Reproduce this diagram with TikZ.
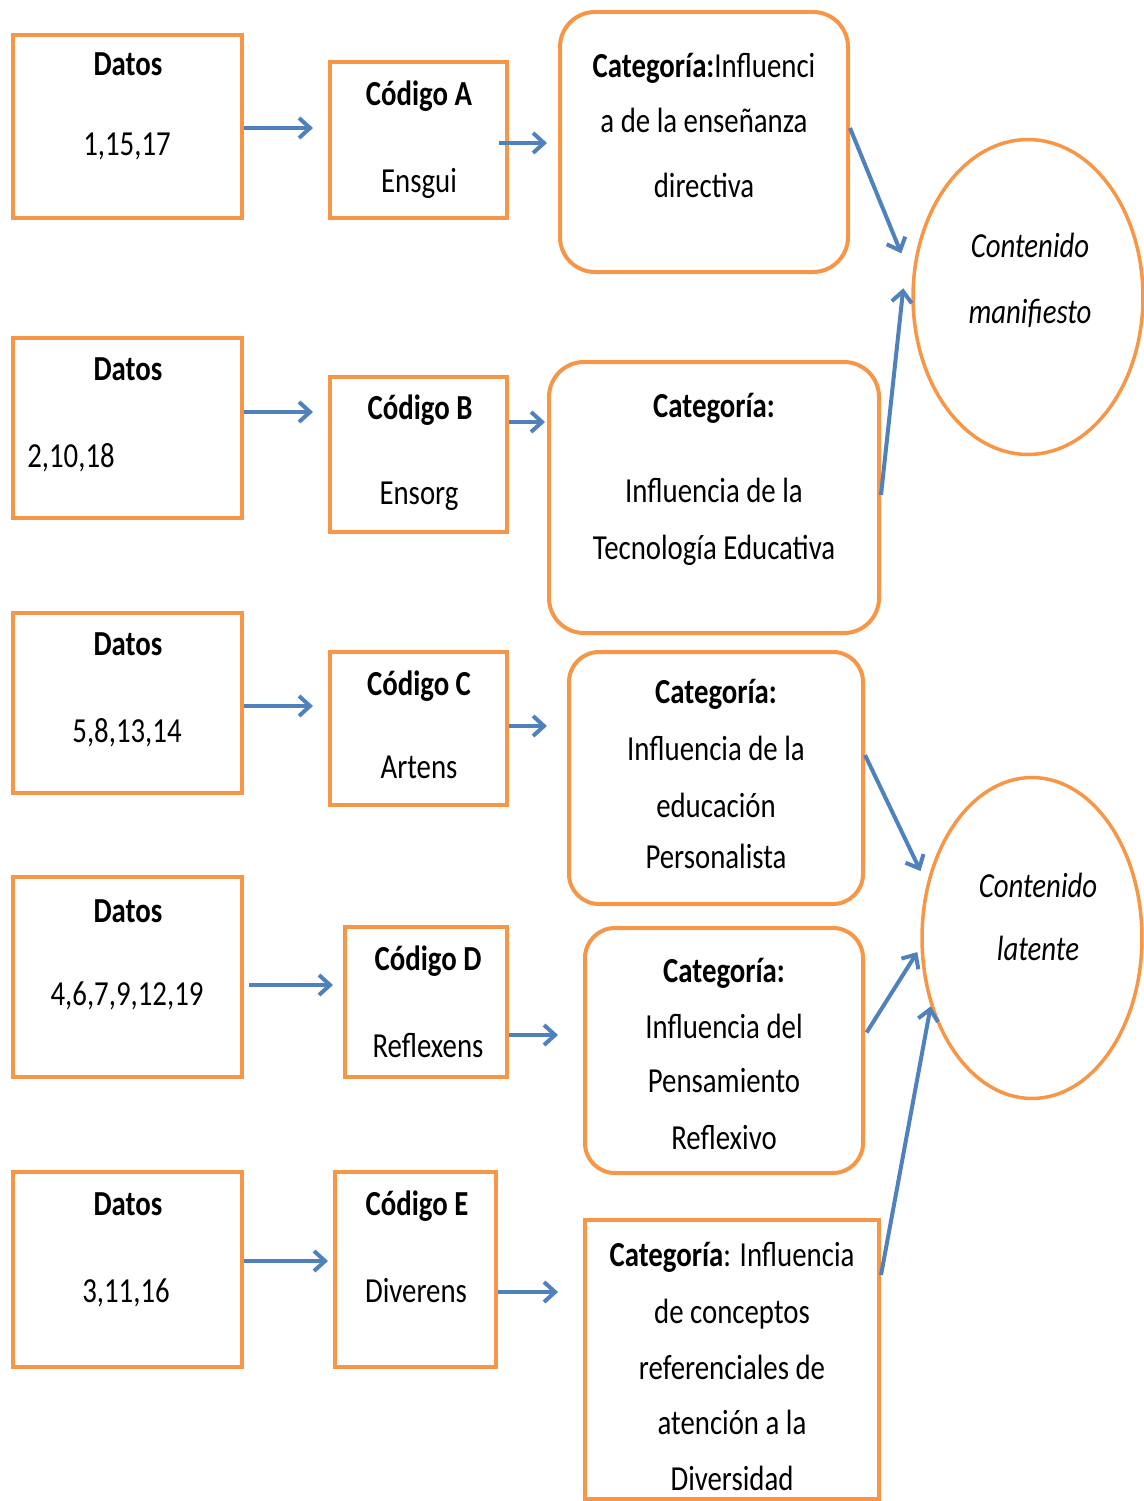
\documentclass[tikz,border=0pt]{standalone}
\usepackage{fontspec}
\setmainfont{Carlito}[FakeStretch=0.82]
\usetikzlibrary{arrows.meta,shapes.geometric,fit,calc}
\definecolor{org}{RGB}{247,150,70}
\definecolor{blu}{RGB}{79,129,189}
\begin{document}
\begin{tikzpicture}[x=0.02cm,y=-0.02cm,
 box/.style={draw=org, line width=0.08cm, inner sep=0pt, rectangle},
 rbox/.style={box, rounded corners=0.7cm},
 ell/.style={draw=org, line width=0.07cm, ellipse, inner sep=0pt},
 lbl/.style={anchor=base, inner sep=0pt, font=\fontsize{20}{24}\selectfont},
 arr/.style={draw=blu, line width=0.08cm, -{Straight Barb[length=0.22cm,width=0.4cm]}}
]
\useasboundingbox (0,0) rectangle (1143,1501);
% Datos boxes
\node[box, fit={(13,35)(242,218)}] (d1) {};
\node[box, fit={(13,338)(242,518)}] (d2) {};
\node[box, fit={(13,613)(242,793)}] (d3) {};
\node[box, fit={(13,877)(242,1077)}] (d4) {};
\node[box, fit={(13,1172)(242,1367)}] (d5) {};
% Codigo boxes
\node[box, fit={(330,62)(507,218)}] (ca) {};
\node[box, fit={(330,377)(507,532)}] (cb) {};
\node[box, fit={(330,652)(507,805)}] (cc) {};
\node[box, fit={(345,927)(507,1077)}] (cd) {};
\node[box, fit={(335,1172)(496,1367)}] (ce) {};
% Categoria boxes
\node[rbox, fit={(560,12)(848,272)}] (k1) {};
\node[rbox, fit={(549,362)(879,633)}] (k2) {};
\node[rbox, rounded corners=0.6cm, fit={(569,652)(863,904)}] (k3) {};
\node[rbox, rounded corners=0.6cm, fit={(585,928)(863,1173)}] (k4) {};
\node[box, fit={(585,1220)(879,1499)}] (k5) {};
% Ellipses
\node[ell, minimum width=4.6cm, minimum height=6.3cm] (man) at (1028,297) {};
\node[ell, minimum width=4.4cm, minimum height=6.42cm] (lat) at (1032,938) {};

% Labels: Datos
\node[lbl] (td1a) at (128,75) {\textbf{Datos}};
\node[lbl] (td1b) at (127,155) {1,15,17};
\node[lbl] (td2a) at (128,380) {\textbf{Datos}};
\node[lbl] (td2b) at (71,467) {2,10,18};
\node[lbl] (td3a) at (128,655) {\textbf{Datos}};
\node[lbl] (td3b) at (127,742) {5,8,13,14};
\node[lbl] (td4a) at (128,922) {\textbf{Datos}};
\node[lbl] (td4b) at (127,1005) {4,6,7,9,12,19};
\node[lbl] (td5a) at (128,1215) {\textbf{Datos}};
\node[lbl] (td5b) at (126,1302) {3,11,16};
% Labels: Codigo
\node[lbl] (tca) at (419,105) {\textbf{Código A}};
\node[lbl] (tcb) at (419,192) {Ensgui};
\node[lbl] (tcc) at (420,419) {\textbf{Código B}};
\node[lbl] (tcd) at (419,504) {Ensorg};
\node[lbl] (tce) at (419,695) {\textbf{Código C}};
\node[lbl] (tcf) at (419,778) {Artens};
\node[lbl] (tcg) at (428,970) {\textbf{Código D}};
\node[lbl] (tch) at (428,1057) {Reflexens};
\node[lbl] (tci) at (417,1215) {\textbf{Código E}};
\node[lbl] (tcj) at (416,1302) {Diverens};
% Labels: Categorias
\node[lbl] (tk1a) at (704,77) {\textbf{Categoría:}Influenci};
\node[lbl] (tk1b) at (704,132) {a de la enseñanza};
\node[lbl] (tk1c) at (704,197) {directiva};
\node[lbl] (tk2a) at (714,417) {\textbf{Categoría:}};
\node[lbl] (tk2b) at (714,502) {Influencia de la};
\node[lbl] (tk2c) at (714,559) {Tecnología Educativa};
\node[lbl] (tk3a) at (716,703) {\textbf{Categoría:}};
\node[lbl] (tk3b) at (716,760) {Influencia de la};
\node[lbl] (tk3c) at (716,817) {educación};
\node[lbl] (tk3d) at (716,868) {Personalista};
\node[lbl] (tk4a) at (724,982) {\textbf{Categoría:}};
\node[lbl] (tk4b) at (724,1038) {Influencia del};
\node[lbl] (tk4c) at (724,1092) {Pensamiento};
\node[lbl] (tk4d) at (724,1149) {Reflexivo};
\node[lbl] (tk5a) at (732,1266) {\textbf{Categoría}: Influencia};
\node[lbl] (tk5b) at (732,1323) {de conceptos};
\node[lbl] (tk5c) at (732,1379) {referenciales de};
\node[lbl] (tk5d) at (732,1434) {atención a la};
\node[lbl] (tk5e) at (732,1490) {Diversidad};
% Labels: ellipses
\node[lbl] (tm1) at (1030,257) {\textit{Contenido}};
\node[lbl] (tm2) at (1030,323) {\textit{manifiesto}};
\node[lbl] (tl1) at (1038,897) {\textit{Contenido}};
\node[lbl] (tl2) at (1038,960) {\textit{latente}};

% Arrows
\draw[arr, shorten >=0.3cm] (d1.east |- 0,128) -- (ca.west |- 0,128);
\draw[arr, shorten >=0.22cm] ($(ca.east |- 0,143)+(-10,0)$) -- (k1.west |- 0,143);
\draw[arr, shorten >=0.3cm] (d2.east |- 0,412) -- (cb.west |- 0,412);
\draw[arr, shorten >=0.04cm] (cb.east |- 0,422) -- (k2.west |- 0,422);
\draw[arr, shorten >=0.3cm] (d3.east |- 0,706) -- (cc.west |- 0,706);
\draw[arr, shorten >=0.4cm] (cc.east |- 0,726) -- (k3.west |- 0,726);
\draw[arr, shorten <=0.1cm, shorten >=0.2cm] (d4.east |- 0,985) -- (cd.west |- 0,985);
\draw[arr, shorten >=0.5cm] (cd.east |- 0,1035) -- (k4.west |- 0,1035);
\draw[arr, shorten >=0.1cm] (d5.east |- 0,1261) -- (ce.west |- 0,1261);
\draw[arr, shorten >=0.5cm] (ce.east |- 0,1292) -- (k5.west |- 0,1292);
\draw[arr] (k1.east |- 0,128) -- ($(man.center)!1.12!(man.161)$);
\draw[arr] (k2.east |- 0,495) -- ($(man.center)!1.07!(man.176.7)$);
\draw[arr] (k3.east |- 0,755) -- ($(lat.center)!1.08!(lat.149.4)$);
\draw[arr, shorten <=0.06cm] (k4.east |- 0,1035) -- ($(lat.center)!1.03!(lat.187.6)$);
\draw[arr] (k5.east |- 0,1275) -- (lat.214.6);
\end{tikzpicture}
\end{document}
